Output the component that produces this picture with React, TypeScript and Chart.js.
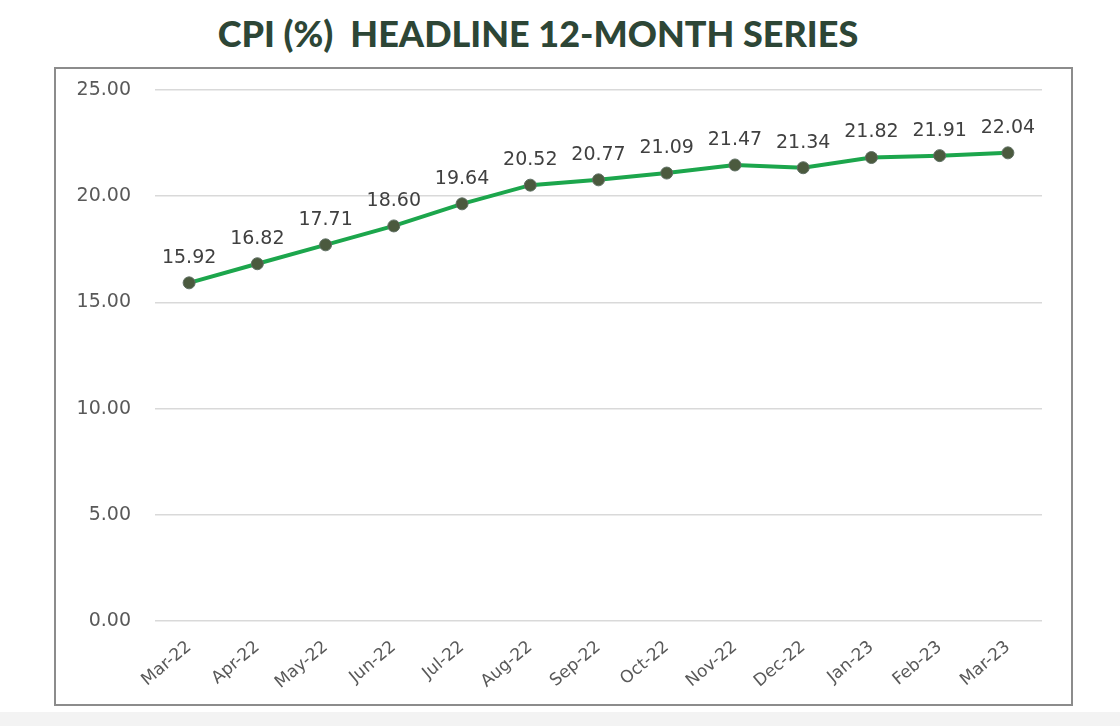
import React, { useEffect, useRef } from 'react';
import { Chart, registerables } from 'chart.js';

Chart.register(...registerables);

const months = ['Mar-22', 'Apr-22', 'May-22', 'Jun-22', 'Jul-22', 'Aug-22', 'Sep-22', 'Oct-22', 'Nov-22', 'Dec-22', 'Jan-23', 'Feb-23', 'Mar-23'];
const cpiValues = [15.92, 16.82, 17.71, 18.6, 19.64, 20.52, 20.77, 21.09, 21.47, 21.34, 21.82, 21.91, 22.04];
const yTicks = [0, 5, 10, 15, 20, 25];

const valueLabels = {
    id: 'valueLabels',
    afterDatasetsDraw(chart: any) {
        const ctx = chart.ctx;
        const meta = chart.getDatasetMeta(0);
        ctx.save();
        ctx.font = '19px "DejaVu Sans"';
        ctx.fillStyle = '#404040';
        ctx.textAlign = 'center';
        ctx.textBaseline = 'middle';
        meta.data.forEach((pt: any, i: number) => {
            ctx.fillText(cpiValues[i].toFixed(2), pt.x, pt.y - 25);
        });
        ctx.restore();
    }
};

const App: React.FC = () => {
    const canvasRef = useRef<HTMLCanvasElement>(null);

    useEffect(() => {
        if (!canvasRef.current) return;
        const ctx = canvasRef.current.getContext('2d');
        if (!ctx) return;

        const chart = new Chart(ctx, {
            type: 'line',
            data: {
                labels: months,
                datasets: [{
                    label: 'CPI',
                    data: cpiValues,
                    borderColor: '#1ca64c',
                    borderWidth: 4,
                    pointRadius: 6,
                    pointBackgroundColor: '#4b5a3e',
                    pointBorderColor: '#5f6f63',
                    pointBorderWidth: 1,
                    tension: 0
                }]
            },
            options: {
                responsive: false,
                animation: false,
                layout: { autoPadding: false, padding: { top: 21, right: 29, left: 0, bottom: 0 } },
                plugins: {
                    legend: { display: false },
                    tooltip: { enabled: false }
                },
                scales: {
                    x: {
                        offset: true,
                        grid: { display: false },
                        border: { display: false },
                        ticks: {
                            color: '#595959',
                            font: { family: '"DejaVu Sans"', size: 17 },
                            minRotation: 40,
                            maxRotation: 40,
                            padding: 8
                        },
                        afterFit: (s: any) => { s.height = 83; s.paddingLeft = 0; s.paddingRight = 0; }
                    },
                    y: {
                        min: 0,
                        max: 25,
                        afterBuildTicks: (s: any) => { s.ticks = yTicks.map(v => ({ value: v })); },
                        grid: { color: '#d9d9d9', lineWidth: 1.5, drawTicks: false },
                        border: { display: false },
                        ticks: {
                            color: '#595959',
                            font: { family: '"DejaVu Sans"', size: 19 },
                            padding: 24,
                            callback: (v: any) => Number(v).toFixed(2)
                        },
                        afterFit: (s: any) => { s.width = 99; s.paddingTop = 0; s.paddingBottom = 0; }
                    }
                }
            },
            plugins: [valueLabels]
        });

        return () => {
            chart.destroy();
        };
    }, []);

    return (
        <div style={{ position: 'fixed', left: 0, top: 0, width: 1120, height: 726, background: '#ffffff' }}>
            <div style={{
                position: 'absolute', left: 0, width: 1076, top: 11, textAlign: 'center',
                fontFamily: 'Lato', fontWeight: 900, fontSize: 36, color: '#2d4636', whiteSpace: 'pre'
            }}>
                {'CPI (%)  HEADLINE 12-MONTH SERIES'}
            </div>
            <div style={{
                position: 'absolute', left: 54, top: 67, width: 1015, height: 635,
                border: '2px solid #8c8c8c', background: '#ffffff'
            }}>
                <canvas ref={canvasRef} width={1015} height={635} style={{ display: 'block' }}></canvas>
            </div>
            <div style={{ position: 'absolute', left: 0, top: 712, width: 1120, height: 14, background: '#f3f3f3' }}></div>
        </div>
    );
};

export default App;
